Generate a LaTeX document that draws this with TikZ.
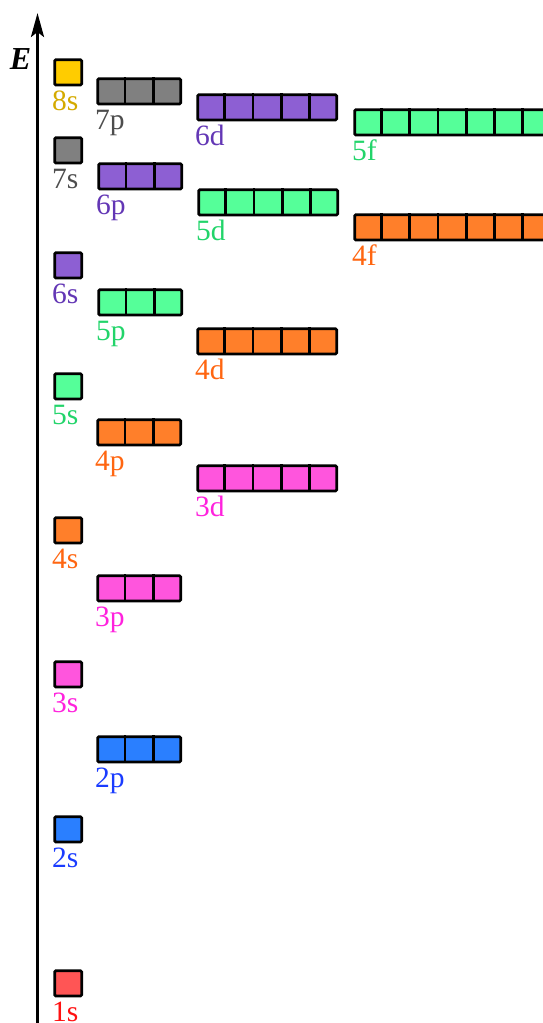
\documentclass[tikz,border=0pt]{standalone}
\usepackage{fontspec}
\setmainfont{Liberation Serif}
\usetikzlibrary{arrows.meta,calc}
\definecolor{f8}{HTML}{FFCC00}\definecolor{t8}{HTML}{D4AA00}
\definecolor{f7}{HTML}{808080}\definecolor{t7}{HTML}{4D4D4D}
\definecolor{f6}{HTML}{8D5FD3}\definecolor{t6}{HTML}{6337B5}
\definecolor{f5}{HTML}{55FF99}\definecolor{t5}{HTML}{22D46A}
\definecolor{f4}{HTML}{FF7F2A}\definecolor{t4}{HTML}{FF6611}
\definecolor{f3}{HTML}{FF55DD}\definecolor{t3}{HTML}{FF22DD}
\definecolor{f2}{HTML}{2A7FFF}\definecolor{t2}{HTML}{1A3CFF}
\definecolor{f1}{HTML}{FF5555}\definecolor{t1}{HTML}{FF1111}
\tikzset{
  orbbox/.style={draw=black, line width=2.7pt, rounded corners=1.2pt, inner sep=0pt,
    minimum height=25.3pt, anchor=north west},
  cellline/.style={draw=black, line width=2.7pt},
  orblabel/.style={anchor=base west, inner sep=0pt, font=\fontsize{29.5}{29.5}\selectfont},
  axisline/.style={line width=3pt, -{Stealth[length=24pt,width=13pt,inset=5pt]}}
}
% #1 name, #2 left x, #3 top y, #4 cells, #5 shell number, #6 label
\newcommand\orbital[6]{%
  \node[orbbox, fill=f#5, minimum width=#4*28pt-1pt] (#1) at (#2+1.35,-#3-1.35) {};
  \ifnum#4>1
    \foreach \k in {1,...,\numexpr#4-1\relax}{%
      \draw[cellline] ($(#1.north west)!\k/#4!(#1.north east)$) -- ($(#1.south west)!\k/#4!(#1.south east)$);
    }%
  \fi
  \node[orblabel, text=t#5] (#1l) at (#2,-#3-53) {#6};
}
\begin{document}
\begin{tikzpicture}[x=1pt,y=1pt]
\useasboundingbox (0,0) rectangle (543,-1023);
\clip (0,0) rectangle (543,-1023);
% axis
\coordinate (axb) at (37.5,-1030);
\coordinate (axt) at (37.5,-13);
\draw[axisline] (axb) -- (axt);
\node[font=\fontsize{32}{32}\selectfont\bfseries\itshape, inner sep=0pt] (E) at (20.5,-59) {E};
% s
\orbital{s8}{52}{57}{1}{8}{8s}
\orbital{s7}{52}{135}{1}{7}{7s}
\orbital{s6}{52}{250}{1}{6}{6s}
\orbital{s5}{52}{371}{1}{5}{5s}
\orbital{s4}{52}{515}{1}{4}{4s}
\orbital{s3}{52}{659}{1}{3}{3s}
\orbital{s2}{52}{814}{1}{2}{2s}
\orbital{s1}{52}{968}{1}{1}{1s}
% p
\orbital{p7}{95}{76}{3}{7}{7p}
\orbital{p6}{96}{161}{3}{6}{6p}
\orbital{p5}{96}{287}{3}{5}{5p}
\orbital{p4}{95}{417}{3}{4}{4p}
\orbital{p3}{95}{573}{3}{3}{3p}
\orbital{p2}{95}{734}{3}{2}{2p}
% d
\orbital{d6}{195}{92}{5}{6}{6d}
\orbital{d5}{196}{187}{5}{5}{5d}
\orbital{d4}{195}{326}{5}{4}{4d}
\orbital{d3}{195}{463}{5}{3}{3d}
% f
\orbital{f5}{352}{107}{7}{5}{5f}
\orbital{f4}{352}{212}{7}{4}{4f}
\end{tikzpicture}
\end{document}
